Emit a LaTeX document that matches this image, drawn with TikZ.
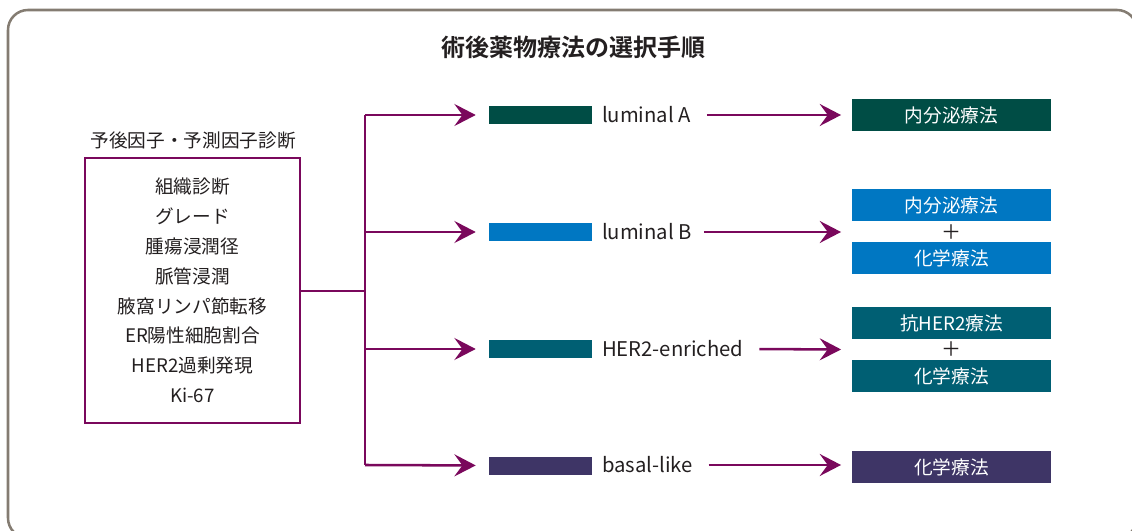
\documentclass[tikz,border=0pt]{standalone}
\usepackage{fontspec}
\setmainfont{Noto Sans CJK JP}[BoldFont={Noto Sans CJK JP Bold}]
\usetikzlibrary{arrows.meta,calc}
\definecolor{plum}{RGB}{122,8,92}
\definecolor{framegray}{RGB}{132,124,114}
\definecolor{lumA}{RGB}{0,77,69}
\definecolor{lumB}{RGB}{0,119,194}
\definecolor{hertwo}{RGB}{0,95,115}
\definecolor{basal}{RGB}{62,53,102}
\definecolor{txt}{RGB}{35,31,32}
\tikzset{
  frame/.style={draw=framegray,line width=1.9pt,rounded corners=15pt},
  leftbox/.style={draw=plum,line width=1.9pt,minimum width=161.25pt,minimum height=198.75pt,align=center,
    font=\fontsize{14pt}{22.35pt}\selectfont,text=txt,inner sep=0pt},
  hdrtext/.style={font=\fontsize{14pt}{16pt}\selectfont,text=txt,inner sep=0pt},
  bar/.style={minimum width=77.25pt,minimum height=13.5pt,inner sep=0pt},
  subtype/.style={font=\fontsize{15.2pt}{17pt}\selectfont,text=txt,anchor=west,inner sep=0pt,outer sep=0pt},
  therapy/.style={minimum width=149.25pt,minimum height=24pt,inner sep=0pt,text=white,
    font=\fontsize{14pt}{16pt}\selectfont},
  plus/.style={font=\fontsize{15pt}{16pt}\selectfont,text=txt,inner sep=0pt},
  link/.style={draw=plum,line width=1.9pt},
  arr/.style={link,-{Stealth[length=16pt,width=16.5pt,inset=6pt]}},
}
\begin{document}
\begin{tikzpicture}[x=0.75pt,y=-0.75pt]
\useasboundingbox (0,0) rectangle (1132,531);
\begin{scope}
\clip (0,0) rectangle (1132,531);
\draw[frame] (8,10) rectangle (1137,538);
\end{scope}

\node[font=\bfseries\fontsize{18pt}{20pt}\selectfont,text=txt] (title) at (573,47) {術後薬物療法の選択手順};

\node[hdrtext] (hdr) at (193,140) {予後因子・予測因子診断};
\node[leftbox] (box) at (192.5,290.5) {組織診断\\グレード\\腫瘍浸潤径\\脈管浸潤\\腋窩リンパ節転移\\ER陽性細胞割合\\HER2過剰発現\\Ki-67};

\coordinate (j) at (365,291);
\coordinate (jA) at (365,115);
\coordinate (jB) at (365,232);
\coordinate (jC) at (365,349);
\coordinate (jD) at (365,465);

\node[bar,fill=lumA] (barA) at (540.5,115) {};
\node[bar,fill=lumB] (barB) at (540.5,232) {};
\node[bar,fill=hertwo] (barC) at (540.5,349) {};
\node[bar,fill=basal] (barD) at (540.5,465.5) {};

\node[subtype] (labA) at (602,115) {luminal A};
\node[subtype] (labB) at (602,232) {luminal B};
\node[subtype] (labC) at (602,349) {HER2-enriched};
\node[subtype] (labD) at (602,465) {basal-like};

\node[therapy,fill=lumA] (tA) at (951.5,115.5) {内分泌療法};
\node[therapy,fill=lumB] (tB1) at (951.5,205) {内分泌療法};
\node[plus] (pB) at (951.5,232) {＋};
\node[therapy,fill=lumB] (tB2) at (951.5,258) {化学療法};
\node[therapy,fill=hertwo] (tC1) at (951.5,323) {抗HER2療法};
\node[plus] (pC) at (951.5,349.5) {＋};
\node[therapy,fill=hertwo] (tC2) at (951.5,376) {化学療法};
\node[therapy,fill=basal] (tD) at (951.5,467) {化学療法};

\draw[link] (box.east |- j) -- (j);
\draw[link] (jA) -- (jD);
\draw[arr,shorten >=9.75pt] (jA) -- (barA.west);
\draw[arr,shorten >=9.75pt] (jB) -- (barB.west);
\draw[arr,shorten >=9.75pt] (jC) -- (barC.west);
\draw[arr,shorten >=9.75pt] (jD) -- (barD.west);

\draw[arr,shorten <=12pt,shorten >=8pt] (labA.east) -- (tA.west |- labA.east);
\draw[arr,shorten <=9pt,shorten >=8pt] (labB.east) -- (tB1.west |- pB);
\draw[arr,shorten <=12pt,shorten >=8pt] (labC.east) -- (tC1.west |- pC);
\draw[arr,shorten <=12pt,shorten >=8pt] (labD.east) -- (tD.west |- labD.east);
\end{tikzpicture}
\end{document}
